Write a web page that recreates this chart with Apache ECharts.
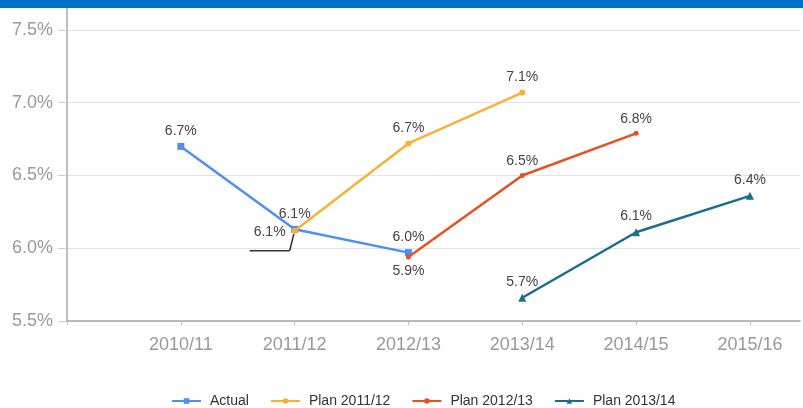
<!DOCTYPE html>
<html>
<head>
<meta charset="utf-8">
<script src="https://cdn.jsdelivr.net/npm/echarts@6/dist/echarts.min.js"></script>
<style>
  html, body { margin: 0; padding: 0; background: #fff; }
  #chart { width: 803px; height: 408px; }
</style>
</head>
<body>
<div id="chart"></div>
<script>
// Financial years along the x axis
const years = ['2010/11', '2011/12', '2012/13', '2013/14', '2014/15', '2015/16'];

// Rates (%) per series; each series begins at the year given in startYear
const actual   = [6.70, 6.13, 5.97];
const plan1112 = [6.12, 6.72, 7.07];
const plan1213 = [5.94, 6.50, 6.79];
const plan1314 = [5.66, 6.11, 6.36];

const seriesNames = ['Actual', 'Plan 2011/12', 'Plan 2012/13', 'Plan 2013/14'];
const startYear   = ['2010/11', '2011/12', '2012/13', '2013/14'];
const yTicks = [5.5, 6.0, 6.5, 7.0, 7.5];

const colors  = ['#4f8ef5', '#f8b03a', '#e6511f', '#1b6d8e'];
const symbols = ['rect', 'circle', 'circle', 'triangle'];
const symbolSizes = [7, 6, 5, 8];

const FONT = 'Liberation Sans, Arial, sans-serif';
const pct = v => v.toFixed(1) + '%';

function toPoints(values, start) {
  const s = years.indexOf(start);
  return values.map((v, i) => [s + i, v]);
}

const allValues = [actual, plan1112, plan1213, plan1314];

const labelBase = { show: true, position: 'top', fontSize: 14, color: '#444',
  fontFamily: FONT, formatter: p => pct(p.value[1]) };

const series = allValues.map((vals, k) => ({
  name: seriesNames[k],
  type: 'line',
  data: toPoints(vals, startYear[k]).map(p => ({ value: p })),
  color: colors[k],
  symbol: symbols[k],
  symbolSize: symbolSizes[k],
  showAllSymbol: true,
  lineStyle: { width: 2.5, color: colors[k] },
  itemStyle: { color: colors[k] },
  label: Object.assign({}, labelBase),
  emphasis: { disabled: true },
  z: 2 + k
}));

// Plan 2011/12 opens on the same point as Actual: its label sits below-left,
// underlined, with a leader line back to the point
series[1].data[0] = {
  value: series[1].data[0].value,
  label: {
    show: true,
    position: 'top',
    formatter: p => '{t|' + pct(p.value[1]) + '}\n{u|}\n{b| }',
    rich: {
      t: { fontSize: 14, color: '#444', lineHeight: 36, align: 'center', fontFamily: FONT },
      u: { width: 40, height: 1.5, lineHeight: 2, backgroundColor: '#333' },
      b: { fontSize: 14, lineHeight: 36, color: 'rgba(0,0,0,0)' }
    }
  },
  labelLine: { show: true, length2: 0, lineStyle: { color: '#333', width: 1.5 } }
};
series[1].labelLayout = p => (p.dataIndex === 0 ? { dx: -25, dy: 65 } : {});
series[1].labelLine = { show: false };

// Plan 2012/13 opening label goes below its point
series[2].data[0] = { value: series[2].data[0].value, label: { position: 'bottom' } };

const chart = echarts.init(document.getElementById('chart'));
chart.setOption({
  animation: false,
  backgroundColor: '#fff',
  textStyle: { fontFamily: FONT },
  graphic: [{
    type: 'rect', left: 0, top: 0, z: 100,
    shape: { width: 803, height: 8 },
    style: { fill: '#0070c4' }
  }],
  grid: { left: 67, right: 3, top: 7, bottom: 87, containLabel: false },
  legend: {
    top: 389,
    left: 166,
    itemWidth: 29,
    itemHeight: 7,
    itemGap: 21,
    textStyle: { fontSize: 14, color: '#333', padding: [0, 0, 0, 4] },
    data: seriesNames
  },
  xAxis: {
    type: 'value',
    min: -1,
    max: 5.44,
    interval: 1,
    axisLine: { show: true, onZero: false, lineStyle: { color: '#a8a8a8', width: 1.5 } },
    axisTick: { show: true, length: 4, lineStyle: { color: '#bbb' } },
    splitLine: { show: false },
    axisLabel: {
      fontSize: 18, color: '#999', margin: 15,
      showMaxLabel: false,
      formatter: v => (Number.isInteger(v) && v >= 0 && v < years.length ? years[v] : '')
    }
  },
  yAxis: {
    type: 'value',
    min: 5.5,
    max: 7.658,
    interval: 0.5,
    axisLine: { show: true, onZero: false, lineStyle: { color: '#a8a8a8', width: 1.5 } },
    axisTick: { show: true, length: 9, lineStyle: { color: '#ccc' } },
    splitLine: { show: true, lineStyle: { color: '#e3e3e3', width: 1 } },
    axisLabel: {
      fontSize: 18, color: '#999', margin: 14,
      formatter: v => (yTicks.some(t => Math.abs(t - v) < 1e-9) ? v.toFixed(1) + '%' : '')
    }
  },
  series: series
});
</script>
</body>
</html>
